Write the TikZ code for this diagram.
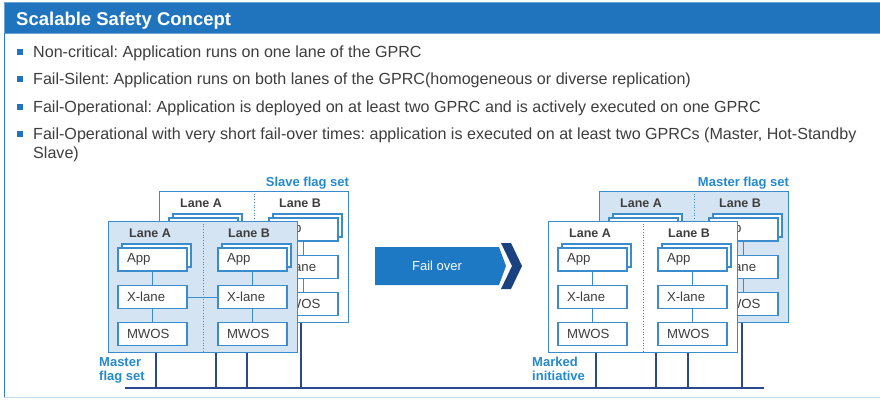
\documentclass[tikz,border=0pt]{standalone}
\usepackage{fontspec}
\setmainfont{Liberation Sans}
\usetikzlibrary{calc}
\definecolor{hdrblue}{RGB}{31,116,189}
\definecolor{hdredge}{RGB}{110,165,215}
\definecolor{boxblue}{RGB}{58,140,204}
\definecolor{lightfill}{RGB}{213,228,242}
\definecolor{lblblue}{RGB}{36,138,206}
\definecolor{busblue}{RGB}{44,72,140}
\definecolor{arrowblue}{RGB}{30,121,196}
\definecolor{navy}{RGB}{26,66,128}
\definecolor{txtgray}{RGB}{62,62,62}
\definecolor{frameblue}{RGB}{40,130,200}
\definecolor{bottomline}{RGB}{195,218,238}

\tikzset{
  unitbox/.style={draw=boxblue,line width=1.2pt,minimum width=189pt,minimum height=131pt,inner sep=0pt,anchor=north west},
  inbox/.style={draw=boxblue,fill=white,line width=1.2pt,minimum width=69pt,minimum height=23pt,
    text width=51pt,inner xsep=9pt,inner ysep=0pt,align=left,font=\fontsize{13.2}{14}\selectfont,text=txtgray},
  lanelabel/.style={font=\bfseries\fontsize{12.5}{14}\selectfont,text=txtgray,inner sep=0pt},
  divider/.style={draw=boxblue,line width=0.7pt,dotted},
  conn/.style={draw=boxblue,line width=1pt},
  bus/.style={draw=busblue,line width=1.4pt},
  flaglabel/.style={font=\bfseries\fontsize{13}{14.5}\selectfont,text=lblblue,inner sep=0pt,align=left},
  bullettext/.style={font=\frenchspacing\fontsize{16.1}{19}\selectfont,text=txtgray,inner sep=0pt,anchor=base west,align=left},
  bulletsq/.style={fill=hdrblue,minimum size=6pt,inner sep=0pt},
}

% #1 prefix, #2 X, #3 Y (top-left), #4 fill, #5 x-lane link (1/0)
\newcommand\gprcunit[5]{%
  \node[unitbox,fill=#4] (#1) at ({#2},{#3}) {};
  \coordinate (#1-dt) at ({#2+95},{#3});
  \coordinate (#1-db) at (#1-dt |- #1.south);
  \draw[divider] (#1-dt) -- (#1-db);
  \node[lanelabel] (#1-la) at ({#2+42},{#3+12}) {Lane A};
  \node[lanelabel] (#1-lb) at ({#2+141},{#3+12}) {Lane B};
  \node[inbox] (#1-sA) at ({#2+48.5},{#3+34.5}) {};
  \node[inbox] (#1-appA) at ({#2+44.5},{#3+38.5}) {App};
  \node[inbox] (#1-xA) at ({#2+44.5},{#3+76}) {X-lane};
  \node[inbox] (#1-mA) at ({#2+44.5},{#3+113}) {MWOS};
  \node[inbox] (#1-sB) at ({#2+148.5},{#3+34.5}) {};
  \node[inbox] (#1-appB) at ({#2+144.5},{#3+38.5}) {App};
  \node[inbox] (#1-xB) at ({#2+144.5},{#3+76}) {X-lane};
  \node[inbox] (#1-mB) at ({#2+144.5},{#3+113}) {MWOS};
  \draw[conn] (#1-appA) -- (#1-xA);
  \draw[conn] (#1-xA) -- (#1-mA);
  \draw[conn] (#1-appB) -- (#1-xB);
  \draw[conn] (#1-xB) -- (#1-mB);
  \ifnum#5=1 \draw[conn] (#1-xA) -- (#1-xB);\fi
}

\begin{document}
\begin{tikzpicture}[x=1pt,y=-1pt]
\useasboundingbox (0,0) rectangle (880,399);
\fill[white] (0,0) rectangle (880,399);

% header and frame
\draw[hdredge,line width=0.8pt,fill=hdrblue] (4,2.5) rectangle (881,33);
\node[font=\bfseries\fontsize{18.5}{20}\selectfont,text=white,inner sep=0pt,anchor=base west] (title) at (16,25) {Scalable Safety Concept};
\draw[frameblue,line width=1.3pt] (4.5,33) -- (4.5,398);
\draw[bottomline,line width=1.5pt] (4,397.5) -- (880,397.5);

% bullets
\node[bulletsq] (b1) at (19.5,51.5) {};
\node[bullettext] (t1) at (33,57) {Non-critical: Application runs on one lane of the GPRC};
\node[bulletsq] (b2) at (19.5,79) {};
\node[bullettext] (t2) at (33,84.5) {Fail-Silent: Application runs on both lanes of the GPRC(homogeneous or diverse replication)};
\node[bulletsq] (b3) at (19.5,106.5) {};
\node[bullettext] (t3) at (33,112) {Fail-Operational: Application is deployed on at least two GPRC and is actively executed on one GPRC};
\node[bulletsq] (b4) at (19.5,134) {};
\node[bullettext] (t4) at (33,158.5) {Fail-Operational with very short fail-over times: application is executed on at least two GPRCs (Master, Hot-Standby\\Slave)};

% left configuration
\gprcunit{Lb}{159}{191}{white}{0}
\gprcunit{Lf}{108}{221}{lightfill}{1}
% right configuration
\gprcunit{Rb}{599}{191}{lightfill}{0}
\gprcunit{Rf}{548}{221}{white}{0}

\node[flaglabel,anchor=base east] (slaveflag) at ([yshift=5pt]Lb.north east) {Slave flag set};
\node[flaglabel,anchor=base east] (masterflagR) at ([yshift=5pt]Rb.north east) {Master flag set};
\node[flaglabel,anchor=base west] (masterflagL) at (99,380.5) {Master\\flag set};
\node[flaglabel,anchor=base west] (marked) at (532,380.5) {Marked\\initiative};

% bus
\coordinate (busL) at (125,388);
\coordinate (busR) at (764,388);
\draw[bus] (busL) -- (busR);
\coordinate (p1) at ([xshift=48pt]Lf.south west);
\coordinate (p2) at ([xshift=108pt]Lf.south west);
\coordinate (p3) at ([xshift=139pt]Lf.south west);
\coordinate (p4) at ([xshift=142pt]Lb.south west);
\coordinate (q1) at ([xshift=48pt]Rf.south west);
\coordinate (q2) at ([xshift=108pt]Rf.south west);
\coordinate (q3) at ([xshift=140pt]Rf.south west);
\coordinate (q4) at ([xshift=143pt]Rb.south west);
\foreach \p in {p1,p2,p3,p4,q1,q2,q3,q4}{
  \draw[bus,line width=1.1pt] (\p) -- (\p |- busL);
}

% fail over arrow
\fill[arrowblue] (375,247) -- (499,247) -- (506,266) -- (499,285) -- (375,285) -- cycle;
\fill[navy] (501,243) -- (511,243) -- (522,266) -- (511,289) -- (501,289) -- (512,266) -- cycle;
\node[font=\fontsize{13}{14}\selectfont,text=white,inner sep=0pt] (fo) at (437,266) {Fail over};
\end{tikzpicture}
\end{document}
